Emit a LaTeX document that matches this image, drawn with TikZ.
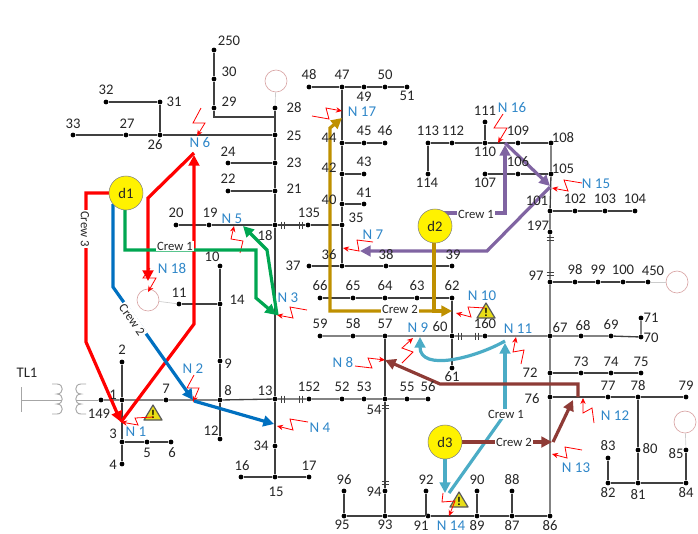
\documentclass[tikz,border=0pt]{standalone}
\usepackage{fontspec}
\setmainfont{Carlito}
\usetikzlibrary{arrows.meta}
\definecolor{netc}{HTML}{404040}
\definecolor{txtc}{HTML}{262626}
\definecolor{faultb}{HTML}{2E86C8}
\definecolor{crewred}{HTML}{FF0000}
\definecolor{crewblue}{HTML}{0070C0}
\definecolor{crewgreen}{HTML}{00A651}
\definecolor{crewpurple}{HTML}{8064A2}
\definecolor{crewgold}{HTML}{BF9000}
\definecolor{crewcyan}{HTML}{4BACC6}
\definecolor{crewbrown}{HTML}{8E3B36}
\tikzset{
  busdot/.style={circle,fill=black,inner sep=0pt,minimum size=3.6pt},
  line/.style={draw=netc,line width=1pt},
  tick/.style={draw=netc,line width=0.6pt},
  stub/.style={draw=black!20,line width=0.5pt},
  xfmr/.style={draw=black!35,line width=0.7pt},
  motor/.style={circle,draw=red!40!gray!50,line width=0.5pt,inner sep=0pt,minimum size=16.5pt},
  buslabel/.style={text=txtc,font=\fontsize{11pt}{12pt}\selectfont,inner sep=0pt},
  nlabel/.style={text=faultb,font=\fontsize{11.2pt}{12pt}\selectfont,inner sep=0pt},
  crewlabel/.style={text=txtc,fill=white,font=\fontsize{9.5pt}{10pt}\selectfont,inner sep=1pt},
  fault/.style={draw=red,line width=0.6pt,-{Stealth[length=4.5pt,width=4pt]}},
  route/.style={line width=2.4pt,-{Triangle[length=8pt,width=8pt]}},
  plainroute/.style={line width=2.4pt},
  depot/.style={circle,fill=yellow,draw=black!50,line width=0.4pt,inner sep=0pt,minimum size=25.5pt,text=txtc,font=\fontsize{11pt}{12pt}\selectfont},
  warn/.style={fill=yellow!90!black,draw=black!65,line width=0.9pt,line join=round},
  warnmark/.style={text=black,font=\bfseries\fontsize{9pt}{9pt}\selectfont,inner sep=0pt}
}
\begin{document}
\begin{tikzpicture}[x=0.75pt,y=-0.75pt]
\useasboundingbox (0,0) rectangle (698,533);
% buses
\foreach \n/\x/\y in {250/214/50,30/214/79,29/214/108,28/275/108,25/275/135,23/275/163,21/275/191,
 31/160/102,32/106/102,33/73/135,27/126/135,26/160/135,24/228/163,22/228/191,20/176/225,19/209/225,
 18/275/225,135/308/225,35/342/225,10/220/266,14/220/304,11/179/304,9/220/361,8/220/400,12/220/439,
 13/275/399,34/275/446,15/275/477,16/241/477,17/309/477,2/122/362,1/122/400,149/101/400,7/166/400,
 3/122/442,5/147/442,6/171/442,4/122/464,48/309/87,47/342/87,49/364/87,50/385/87,51/407/87,
 44/342/143,45/364/143,46/385/143,42/342/174,43/364/174,40/342/204,41/364/204,36/342/266,37/309/266,
 38/386/266,39/452/266,113/428/143,112/452/143,110/485/143,111/485/122,109/518/143,108/551/143,
 114/428/174,107/485/174,106/518/174,105/551/174,101/550/211,102/575/211,103/605/211,104/635/211,
 197/550/232,97/550/282,98/575/282,99/598/282,100/623/282,450/648/282,
 66/320/298,65/353/298,64/385/298,63/417/298,62/452/298,59/320/336,58/353/336,57/385/336,60/452/336,
 160/485/336,61/452/368,152/309/399,52/342/399,53/364/399,54/385/399,55/407/399,56/428/399,
 94/385/491,96/344/491,95/344/516,93/385/516,92/426/491,91/428/516,90/477/491,89/477/516,88/512/491,
 87/512/516,86/550/516,67/550/336,68/581/336,69/611/336,70/641/337,71/641/318,72/550/373,73/581/373,
 74/611/373,75/641/373,76/550/397,77/608/397,78/638/397,79/686/397,80/638/450,81/638/483,82/608/483,
 83/608/458,84/686/483,85/686/450}
  {\node[busdot] (b\n) at (\x,\y) {};}
% transformer, feeder stub
\coordinate (tbartop) at (21,387);
\coordinate (tbarbot) at (21,412);
\coordinate (tmid) at (21,400);
\coordinate (tleft) at (62,400);
\coordinate (tright) at (76,400);
\draw[xfmr] (tbartop) -- (tbarbot);
\draw[xfmr] (tmid) -- (tleft);
\draw[xfmr] (52,384) -- (57,384) .. controls (64,384) and (64,394) .. (57,394) .. controls (64,394) and (64,404) .. (57,404) .. controls (64,404) and (64,414) .. (57,414) -- (52,414);
\draw[xfmr] (86,384) -- (81,384) .. controls (74,384) and (74,394) .. (81,394) .. controls (74,394) and (74,404) .. (81,404) .. controls (74,404) and (74,414) .. (81,414) -- (86,414);
\draw[xfmr] (tright) -- (b149);
% network
\draw[line] (b149) -- (b1) -- (b7) -- (b8) -- (b13) -- (b152) -- (b52) -- (b53) -- (b54) -- (b55) -- (b56);
\draw[line] (b2) -- (b1) -- (b3) -- (b4);
\draw[line] (b3) -- (b5) -- (b6);
\draw[line] (b250) -- (b30) -- (b29) -- (214,117) -- (275,117);
\draw[line] (b28) -- (b25) -- (b23) -- (b21) -- (b18) -- (b13) -- (b34) -- (b15);
\draw[line] (b33) -- (b27) -- (b26) -- (b25);
\draw[line] (b32) -- (b31) -- (b26);
\draw[line] (b24) -- (b23);
\draw[line] (b22) -- (b21);
\draw[line] (b20) -- (b19) -- (b18) -- (b135) -- (b35);
\draw[line] (b47) -- (b44) -- (b42) -- (b40) -- (b35) -- (b36);
\draw[line] (b48) -- (b47) -- (b49) -- (b50) -- (b51);
\draw[line] (b44) -- (b45) -- (b46);
\draw[line] (b42) -- (b43);
\draw[line] (b40) -- (b41);
\draw[line] (b37) -- (b36) -- (b38) -- (b39);
\draw[line] (b10) -- (b14) -- (b9) -- (b8) -- (b12);
\draw[line] (b11) -- (b14);
\draw[line] (b16) -- (b15) -- (b17);
\draw[line] (b66) -- (b65) -- (b64) -- (b63) -- (b62) -- (b60) -- (b61);
\draw[line] (b59) -- (b58) -- (b57) -- (b60) -- (b160) -- (b67) -- (b68) -- (b69) -- (b70) -- (b71);
\draw[line] (b57) -- (b54) -- (b94) -- (b93);
\draw[line] (b95) -- (b93) -- (b91) -- (b89) -- (b87) -- (b86);
\draw[line] (b96) -- (b95);
\draw[line] (b92) -- (426,516);
\draw[line] (b90) -- (b89);
\draw[line] (b88) -- (b87);
\draw[line] (b113) -- (b112) -- (b110) -- (b109) -- (b108);
\draw[line] (b113) -- (b114);
\draw[line] (b111) -- (b110);
\draw[line] (b107) -- (b106) -- (b105);
\draw[line] (b108) -- (b105) -- (b101) -- (b197) -- (b97) -- (b67) -- (b72) -- (b76) -- (b86);
\draw[line] (b101) -- (b102) -- (b103) -- (b104);
\draw[line] (b97) -- (b98) -- (b99) -- (b100) -- (b450);
\draw[line] (b72) -- (b73) -- (b74) -- (b75);
\draw[line] (b76) -- (b77) -- (b78) -- (b79);
\draw[line] (b78) -- (b80) -- (b81);
\draw[line] (b82) -- (b81) -- (b84) -- (b85);
\draw[line] (b83) -- (b82);
% breaker ticks
\foreach \x/\y in {283/225,301/225,283/399,301/399,460/336,477/336}
  {\draw[tick] (\x-1.5,\y-3.5) -- (\x-1.5,\y+3.5) (\x+1.5,\y-3.5) -- (\x+1.5,\y+3.5);}
\foreach \x/\y in {385/407,385/483,550/239,550/274}
  {\draw[tick] (\x-3.5,\y-1.5) -- (\x+3.5,\y-1.5) (\x-3.5,\y+1.5) -- (\x+3.5,\y+1.5);}
% motors
\node[motor] (m1) at (276,81) {};
\node[motor] (m2) at (677,282) {};
\node[motor] (m3) at (148,300) {};
\node[motor] (m4) at (685,422) {};
\draw[stub] (m1) -- (b28);
\draw[stub] (m2) -- (b450);
\draw[stub] (m3) -- (b11);
\draw[stub] (m4) -- (b85);
% warnings
\draw[warn] (153,405) -- (162,420) -- (144,420) -- cycle;
\node[warnmark] (w1) at (153,414) {!};
\draw[warn] (486,303) -- (495,318) -- (477,318) -- cycle;
\node[warnmark] (w2) at (486,312) {!};
\draw[warn] (459,492) -- (468,507) -- (450,507) -- cycle;
\node[warnmark] (w3) at (459,501) {!};
% fault marks
\coordinate (f1) at (121,422);
\coordinate (f2) at (193,402);
\coordinate (f3) at (277,315);
\coordinate (f4) at (277,426);
\coordinate (f5) at (234,226);
\coordinate (f6) at (197,136);
\coordinate (f7) at (343,248);
\coordinate (f8) at (385,360);
\coordinate (f9) at (413,338);
\coordinate (f10) at (456,313);
\coordinate (f11) at (516,337);
\coordinate (f12) at (583,398);
\coordinate (f13) at (552,454);
\coordinate (f14) at (449,516);
\coordinate (f15) at (552,188);
\coordinate (f16) at (498,143);
\coordinate (f17) at (342,111);
\coordinate (f18) at (148,292);
\draw[fault] (153,417) -- (135,418) -- (138,425) -- (f1);
\draw[fault] (194,375) -- (187,388) -- (199,388) -- (f2);
\draw[fault] (307,310) -- (290,307) -- (293,318) -- (f3);
\draw[fault] (308,422) -- (290,419) -- (293,430) -- (f4);
\draw[fault] (240,253) -- (243,241) -- (231,239) -- (f5);
\draw[fault] (201,108) -- (193,123) -- (205,123) -- (f6);
\draw[fault] (373,242) -- (357,240) -- (359,251) -- (f7);
\draw[fault] (355,366) -- (372,368) -- (368,358) -- (f8);
\draw[fault] (402,363) -- (413,352) -- (402,348) -- (f9);
\draw[fault] (485,308) -- (468,307) -- (471,317) -- (f10);
\draw[fault] (521,364) -- (524,350) -- (513,352) -- (f11);
\draw[fault] (594,423) -- (592,408) -- (583,413) -- (f12);
\draw[fault] (582,450) -- (565,447) -- (567,458) -- (f13);
\draw[fault] (443,493) -- (442,502) -- (455,501) -- (f14);
\draw[fault] (582,183) -- (564,180) -- (568,191) -- (f15);
\draw[fault] (503,114) -- (494,128) -- (507,128) -- (f16);
\draw[fault] (312,116) -- (329,119) -- (326,108) -- (f17);
\draw[fault] (150,268) -- (143,278) -- (156,278) -- (f18);
% crew 3 (red)
\coordinate (dlw) at (109,193);
\draw[route,draw=crewred] (dlw) -- (86,193) -- (86,342) -- (121,422);
\draw[route,draw=crewred] (121,422) -- (194,324) -- (194,155);
\draw[route,draw=crewred] (194,153) -- (148,198) -- (148,281);
% crew 2 (blue)
\draw[route,draw=crewblue] (113,204) -- (113,287) -- (193,400);
\draw[route,draw=crewblue] (194,401) -- (274,424);
% crew 1 (green)
\draw[route,draw=crewgreen] (125,210) -- (125,250) -- (256,250) -- (256,298) -- (276,315);
\draw[route,draw=crewgreen] (277,315) -- (267,250) -- (243,226);
% crew 1 (purple)
\draw[route,draw=crewpurple] (440,213) -- (505,213) -- (505,145);
\draw[route,draw=crewpurple] (505,143) -- (550,186);
\draw[route,draw=crewpurple] (550,187) -- (487,251) -- (360,251);
% crew 2 (gold)
\draw[route,draw=crewgold] (434,230) -- (434,311) -- (452,311);
\draw[route,draw=crewgold] (434,311) -- (330,311) -- (330,128) -- (342,118);
% crew 1 (cyan)
\draw[route,draw=crewcyan] (445,445) -- (445,493);
\draw[plainroute,draw=crewcyan] (449,493) -- (505,414);
\draw[route,draw=crewcyan] (505,414) -- (505,343);
\draw[route,draw=crewcyan] (505,341) .. controls (475,358) and (420,372) .. (420,337);
% crew 2 (brown)
\draw[route,draw=crewbrown] (450,442) -- (552,442);
\draw[route,draw=crewbrown] (553,442) -- (573,400);
\draw[route,draw=crewbrown] (578,397) -- (578,384) -- (440,384) -- (385,360);
% depots
\node[depot] (d1) at (126,193) {d1};
\node[depot] (d2) at (435,226) {d2};
\node[depot] (d3) at (445,442) {d3};
% crew labels
\node[crewlabel,rotate=-90] (c3) at (85,229) {Crew 3};
\node[crewlabel,rotate=-55] (c2) at (132,320) {Crew 2};
\node[crewlabel] (c1a) at (175,246) {Crew 1};
\node[crewlabel] (c1b) at (476,214) {Crew 1};
\node[crewlabel] (c2b) at (400,309) {Crew 2};
\node[crewlabel] (c1c) at (506,414) {Crew 1};
\node[crewlabel] (c2c) at (514,442) {Crew 2};
% fault labels
\node[nlabel] (n1) at (136,432) {N 1};
\node[nlabel] (n2) at (193,369) {N 2};
\node[nlabel] (n3) at (288,298) {N 3};
\node[nlabel] (n4) at (320,428) {N 4};
\node[nlabel] (n5) at (232,219) {N 5};
\node[nlabel] (n6) at (200,143) {N 6};
\node[nlabel] (n7) at (373,235) {N 7};
\node[nlabel] (n8) at (343,362) {N 8};
\node[nlabel] (n9) at (418,328) {N 9};
\node[nlabel] (n10) at (482,296) {N 10};
\node[nlabel] (n11) at (518,329) {N 11};
\node[nlabel] (n12) at (615,416) {N 12};
\node[nlabel] (n13) at (576,468) {N 13};
\node[nlabel] (n14) at (451,526) {N 14};
\node[nlabel] (n15) at (596,184) {N 15};
\node[nlabel] (n16) at (512,108) {N 16};
\node[nlabel] (n17) at (362,112) {N 17};
\node[nlabel] (n18) at (172,268) {N 18};
% bus labels
\node[buslabel] (tl1) at (27,373) {TL1};
\foreach \n/\x/\y in {250/229/41,30/229/72,29/229/102,28/294/108,25/294/136,23/294/163,21/294/189,
 31/174/102,32/106/90,33/73/124,27/127/124,26/155/145,24/228/152,22/228/179,20/176/213,19/210/213,
 18/265/236,135/309/213,35/356/218,10/212/257,14/237/300,11/179/293,9/228/364,8/228/391,12/211/431,
 13/265/391,34/261/446,15/276/492,16/242/466,17/309/466,2/122/350,1/113/395,149/99/414,7/166/389,
 3/113/434,5/147/453,6/172/453,4/113/465,48/309/75,47/342/75,49/364/97,50/385/75,51/407/96,
 44/329/138,45/364/131,46/385/131,42/329/168,43/364/162,40/329/200,41/364/193,36/329/255,37/293/266,
 38/386/255,39/453/255,113/428/131,112/453/131,110/485/152,111/485/111,109/518/131,108/563/138,
 114/427/183,107/485/183,106/518/162,105/563/169,101/537/201,102/575/199,103/605/199,104/635/199,
 197/538/226,97/536/276,98/575/270,99/598/270,100/623/270,450/653/271,
 66/320/286,65/353/286,64/385/286,63/417/286,62/452/286,59/320/324,58/353/324,57/385/324,60/440/327,
 160/485/324,61/452/377,152/309/387,52/342/387,53/364/387,54/374/410,55/407/387,56/428/387,
 94/374/492,96/344/480,95/342/525,93/385/525,92/426/480,91/421/526,90/477/480,89/477/526,88/512/480,
 87/512/526,86/550/526,67/560/328,68/583/326,69/611/325,70/651/338,71/651/318,72/530/373,73/581/362,
 74/611/362,75/641/362,76/532/399,77/608/386,78/638/386,79/686/386,80/650/449,81/638/495,82/608/493,
 83/608/446,84/686/493,85/676/454}
  {\node[buslabel] (l\n) at (\x,\y) {\n};}
\end{tikzpicture}
\end{document}
